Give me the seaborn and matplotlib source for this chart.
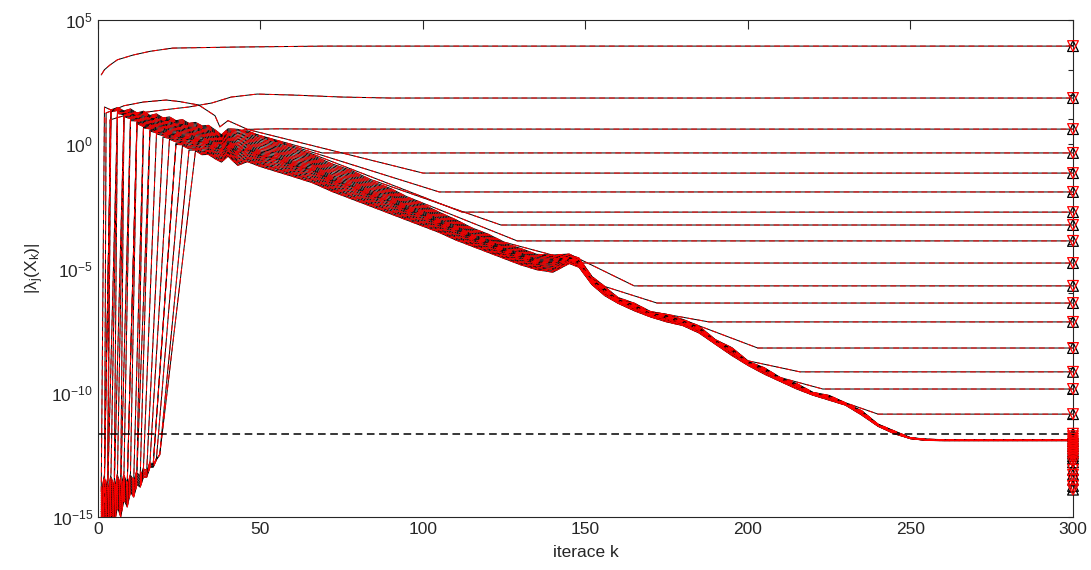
import numpy as np
import pandas as pd
import matplotlib
matplotlib.use("Agg")
import matplotlib.pyplot as plt
from matplotlib.ticker import FixedLocator, FuncFormatter
import seaborn as sns

# log10 |lambda_j(X_k)|

# upper edge / middle / lower edge of the main bundle of curves
ENV_K = [2, 4, 6, 8, 10, 12, 14, 16, 18, 20, 22, 24, 26, 28, 30, 32, 34, 36, 38, 40,
         43, 46, 50, 55, 60, 66, 72, 78, 84, 90, 95,
         100, 105, 110, 115, 120, 125, 130, 135, 140, 145, 148, 152, 156, 160,
         165, 170, 175, 180, 185, 190, 195, 200, 205, 210, 215, 220, 225, 230,
         235, 240, 245, 250, 255, 260, 300]
ENV_HI = [1.50, 1.38, 1.48, 1.34, 1.42, 1.26, 1.33, 1.16, 1.22, 1.06, 1.10, 0.95, 0.99,
          0.84, 0.88, 0.74, 0.76, 0.58, 0.38, 0.62,
          0.60, 0.65, 0.45, 0.25, 0.05, -0.25, -0.55, -0.85, -1.20, -1.55, -1.85,
          -2.15, -2.45, -2.80, -3.10, -3.40, -3.70, -3.95, -4.15, -4.25, -4.25, -4.45,
          -5.10, -5.60, -5.95, -6.25, -6.55, -6.70, -6.85, -7.15, -7.60, -8.05, -8.45,
          -8.80, -9.15, -9.50, -9.75, -9.95, -10.15, -10.60, -11.10, -11.45, -11.70,
          -11.80, -11.82, -11.82]
ENV_MID = [1.15, 1.08, 0.98, 1.02, 0.88, 0.90, 0.76, 0.78, 0.63, 0.65, 0.50, 0.52, 0.38,
           0.40, 0.26, 0.28, 0.14, 0.05, -0.05, 0.12,
           -0.15, -0.02, -0.30, -0.38, -0.70, -0.85, -1.30, -1.50, -1.90, -2.12, -2.50,
           -2.70, -3.05, -3.28, -3.65, -3.85, -4.20, -4.38, -4.65, -4.62, -4.55, -4.65,
           -5.45, -5.80, -6.25, -6.45, -6.80, -6.88, -7.10, -7.35, -7.90, -8.20, -8.75,
           -9.00, -9.40, -9.62, -9.98, -10.10, -10.40, -10.70, -11.25, -11.52, -11.80,
           -11.86, -11.88, -11.88]
ENV_LO = [0.90, 0.70, 0.75, 0.52, 0.55, 0.34, 0.36, 0.16, 0.19, 0.01, 0.03, -0.14, -0.12,
          -0.28, -0.26, -0.42, -0.41, -0.58, -0.72, -0.48,
          -0.85, -0.70, -0.90, -1.10, -1.30, -1.55, -1.90, -2.20, -2.50, -2.80, -3.05,
          -3.30, -3.55, -3.85, -4.10, -4.35, -4.60, -4.85, -5.05, -5.15, -4.80, -4.95,
          -5.65, -6.10, -6.40, -6.70, -6.95, -7.15, -7.30, -7.60, -8.05, -8.50, -8.90,
          -9.25, -9.55, -9.85, -10.10, -10.30, -10.50, -10.90, -11.35, -11.65, -11.85,
          -11.92, -11.93, -11.93]

# round-off level before each curve takes off
NOISE_K = [1, 2, 3, 4, 5, 6, 7, 8, 9, 10, 11, 12, 13, 14, 15, 16, 17, 18, 19, 20]
NOISE_HI = [-14.0, -13.2, -13.6, -12.9, -13.3, -12.6, -13.0, -12.4, -12.8, -12.3,
            -12.5, -12.1, -12.3, -11.9, -12.1, -11.8, -11.9, -11.7, -11.8, -11.7]
NOISE_LO = [-15.8, -15.2, -15.6, -14.9, -15.3, -14.6, -15.0, -14.3, -14.6, -14.0,
            -14.2, -13.7, -13.8, -13.4, -13.4, -13.0, -13.0, -12.7, -12.5, -12.3]

# the three curves above the bundle
TOP1_K = [1, 2, 3.7, 6, 10.8, 16, 23, 41.5, 70, 300]
TOP1_EXP = [2.79, 3.0, 3.19, 3.4, 3.59, 3.74, 3.87, 3.91, 3.95, 3.95]
TOP2_K = [1, 2, 3, 3.7, 8, 13, 20, 28, 35, 41, 49, 60, 75, 90, 300]
TOP2_EXP = [-14.8, -14.2, -13.4, 0.98, 1.15, 1.26, 1.38, 1.5, 1.66, 1.9, 2.02, 1.98,
            1.9, 1.86, 1.86]
TOP3_K = [1, 2, 2.5, 8, 14, 21, 25, 31, 36, 37.5, 40, 46, 55, 70, 300]
TOP3_EXP = [-15.2, -14.4, 1.26, 1.55, 1.7, 1.78, 1.72, 1.58, 1.15, 0.7, 0.95, 0.6,
            0.62, 0.61, 0.61]

# bundle curves: position inside bundle, take-off iteration, plateau
LINE_W = [1.00, 0.96, 0.92, 0.88, 0.84, 0.80, 0.76, 0.72, 0.68, 0.64, 0.60, 0.56, 0.52,
          0.48, 0.44, 0.40, 0.37, 0.34, 0.30, 0.26, 0.22, 0.18, 0.14, 0.10, 0.07, 0.03,
          0.00]
RISE_K = [1, 2, 2, 3, 3, 4, 5, 5, 6, 7, 7, 8, 9, 9, 10, 11, 12, 12, 13, 14, 15, 16, 17,
          17, 18, 19, 19]
TOP_K = [2, 4, 4, 4, 6, 6, 6, 8, 8, 8, 10, 10, 12, 12, 12, 14, 14, 16, 16, 18, 20, 22,
         24, 24, 26, 28, 30]
PLATEAU = [-0.35, -1.16, -1.92, -2.73, -3.25, -3.89, -4.78, -5.70, -6.39, -7.15, -8.20,
           -9.16, -9.85, -10.86] + [None] * 13
DEPART_K = [46, 50, 55, 72, 90, 105, 130, 148, 160, 175, 190, 205, 215, 235] + [None] * 13
SETTLE_K = [69, 100, 105, 112, 124, 129, 149, 165, 172, 188, 203, 216, 223, 240] + [None] * 13

# eigenvalues marked at the last iteration
MARKER_EXP = [3.95, 1.86, 0.61, -0.35, -1.16, -1.92, -2.73, -3.25, -3.89, -4.78, -5.70,
              -6.39, -7.15, -8.20, -9.16, -9.85, -10.86,
              -11.65, -11.75, -11.85, -11.95, -12.05, -12.15, -12.25, -12.35, -12.45,
              -12.55, -12.65, -12.8, -13.1, -13.3, -13.5, -13.75, -13.9]
TOL_EXP = -11.66


def blend(w, hi, mid, lo):
    if w >= 0.5:
        return mid + (w - 0.5) * 2 * (hi - mid)
    return lo + w * 2 * (mid - lo)


def bundle_curve(w, rise, top, plateau, depart, settle):
    env = {k: blend(w, hi, mid, lo) for k, hi, mid, lo in zip(ENV_K, ENV_HI, ENV_MID, ENV_LO)}
    noise = {k: lo + w * (hi - lo) for k, hi, lo in zip(NOISE_K, NOISE_HI, NOISE_LO)}
    pts = [(k, noise[k]) for k in NOISE_K if k <= rise]
    for k in ENV_K:
        if k < top:
            continue
        if plateau is not None and k >= depart:
            break
        pts.append((k, env[k]))
    if plateau is not None:
        pts += [(settle, plateau), (300, plateau)]
    return pts


rows = []
for i, (ks, es) in enumerate([(TOP1_K, TOP1_EXP), (TOP2_K, TOP2_EXP), (TOP3_K, TOP3_EXP)]):
    rows += [(i, k, e) for k, e in zip(ks, es)]
for j in range(len(LINE_W)):
    pts = bundle_curve(LINE_W[j], RISE_K[j], TOP_K[j], PLATEAU[j], DEPART_K[j], SETTLE_K[j])
    rows += [(j + 3, k, e) for k, e in pts]
df = pd.DataFrame(rows, columns=["line", "k", "exp"])
df["val"] = 10.0 ** df["exp"]

sns.set_style("white")
plt.rcParams["font.family"] = ["Liberation Sans", "DejaVu Sans"]
plt.rcParams["mathtext.fontset"] = "custom"
plt.rcParams["mathtext.rm"] = "Liberation Sans"
plt.rcParams["mathtext.it"] = "Liberation Sans"
grey = "#262626"

fig = plt.figure(figsize=(10.91, 5.70), dpi=100)
ax = fig.add_axes([0.0898, 0.0930, 0.8937, 0.8719])
ax.set_yscale("log")

sns.lineplot(data=df, x="k", y="val", units="line", estimator=None, sort=False,
             color="black", lw=0.7, ax=ax)
sns.lineplot(data=df, x="k", y="val", units="line", estimator=None, sort=False,
             color="red", lw=0.7, linestyle=(0, (6, 4)), ax=ax)
ax.axhline(10.0 ** TOL_EXP, color="black", lw=1.1, linestyle=(0, (5, 3)))

mk = pd.DataFrame({"k": [300] * len(MARKER_EXP), "val": 10.0 ** np.array(MARKER_EXP)})
sns.scatterplot(data=mk, x="k", y="val", marker="^", s=60, facecolor="none",
                edgecolor="black", linewidth=0.9, clip_on=False, zorder=5, ax=ax)
sns.scatterplot(data=mk, x="k", y="val", marker="v", s=60, facecolor="none",
                edgecolor="red", linewidth=0.9, clip_on=False, zorder=6, ax=ax)

ax.set_xlim(0, 300)
ax.set_ylim(1e-15, 1e5)
ax.set_xticks([0, 50, 100, 150, 200, 250, 300])
ax.yaxis.set_major_locator(FixedLocator([10.0 ** p for p in range(-15, 6)]))
ax.yaxis.set_minor_locator(FixedLocator([]))
ax.yaxis.set_major_formatter(FuncFormatter(
    lambda v, pos: r"$\mathregular{10^{%d}}$" % round(np.log10(v))
    if round(np.log10(v)) % 5 == 0 else ""))
ax.tick_params(axis="both", which="major", direction="in", top=True, right=True,
               colors=grey, labelsize=12.5, width=0.8)
ax.tick_params(axis="x", length=6.8)
ax.tick_params(axis="y", length=3.6)
for s in ax.spines.values():
    s.set_color(grey)
    s.set_linewidth(0.8)

ax.set_xlabel("iterace k", fontsize=12.5, color=grey, labelpad=6)
ax.set_ylabel(r"$\mathregular{|\lambda_j(X_k)|}$", fontsize=12.5, color=grey, labelpad=4)

fig.savefig("out.png", dpi=100)
